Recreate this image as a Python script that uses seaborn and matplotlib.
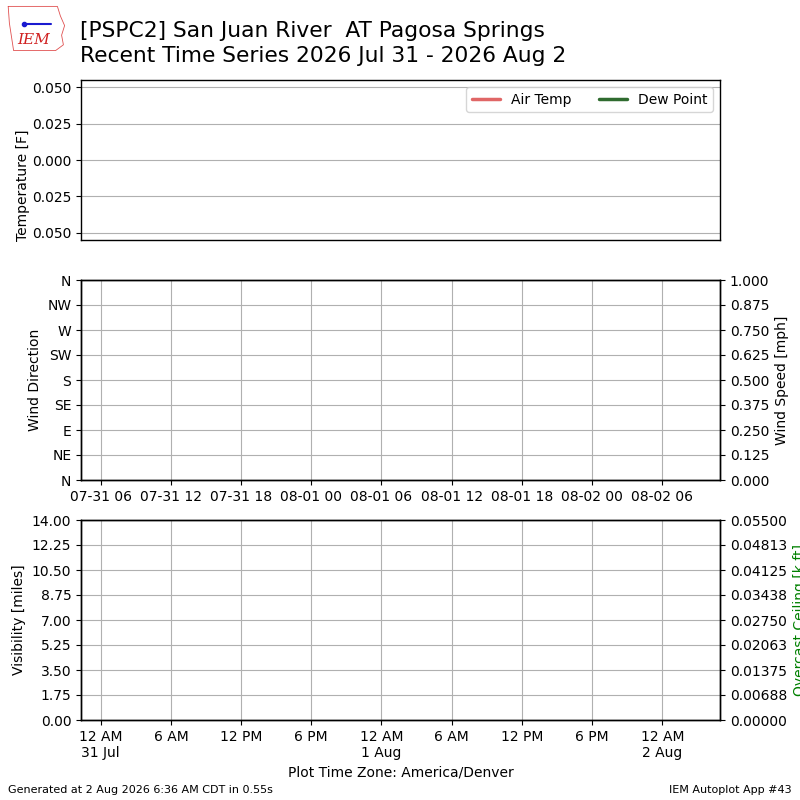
import datetime as dt
import numpy as np
import pandas as pd
import matplotlib
matplotlib.use("Agg")
import matplotlib.pyplot as plt
import matplotlib.dates as mdates
from matplotlib.ticker import FixedLocator, FuncFormatter
import seaborn as sns

# ---------------- data (the station reported nothing in this window) ----------------
times = []            # observation times (UTC)
air_temp = []         # F
dew_point = []        # F
wind_dir = []         # degrees
wind_speed = []       # mph
visibility = []       # miles
ceiling = []          # k ft

x_start = dt.datetime(2026, 7, 31, 4, 19)   # UTC
x_end = dt.datetime(2026, 8, 2, 10, 56)     # UTC
utc_offset_hours = -6                        # America/Denver (MDT)

temp_ticks = [-0.05, -0.025, 0.0, 0.025, 0.05]
dir_ticks = [0, 45, 90, 135, 180, 225, 270, 315, 360]
dir_labels = ["N", "NE", "E", "SE", "S", "SW", "W", "NW", "N"]
speed_ticks = [0.0, 0.125, 0.25, 0.375, 0.5, 0.625, 0.75, 0.875, 1.0]
vis_ticks = [0.0, 1.75, 3.5, 5.25, 7.0, 8.75, 10.5, 12.25, 14.0]
ceil_ticks = [0.0, 0.006875, 0.01375, 0.020625, 0.0275, 0.034375, 0.04125, 0.048125, 0.055]

title = "[PSPC2] San Juan River  AT Pagosa Springs\nRecent Time Series 2026 Jul 31 - 2026 Aug 2"
footer_left = "Generated at 2 Aug 2026 6:36 AM CDT in 0.55s"
footer_right = "IEM Autoplot App #43"

# ---------------- style ----------------
sns.set_style("ticks", {"axes.grid": True, "grid.color": "#b0b0b0",
                        "axes.edgecolor": "black", "xtick.color": "black",
                        "ytick.color": "black", "axes.labelcolor": "black",
                        "text.color": "black"})
plt.rcParams["font.family"] = ["DejaVu Sans"]
plt.rcParams["axes.unicode_minus"] = False
plt.rcParams["grid.linewidth"] = 0.8
plt.rcParams["axes.linewidth"] = 1.0

fig = plt.figure(figsize=(8, 8), dpi=100)

df_t = pd.DataFrame({"time": pd.to_datetime(times), "air": pd.Series(air_temp, dtype=float),
                     "dew": pd.Series(dew_point, dtype=float)})

# ---------------- top: temperature ----------------
ax1 = fig.add_axes([0.10125, 0.70, 0.79875, 0.20])
ax1.plot(df_t["time"], df_t["air"], color="#e06666", lw=2.5, label="Air Temp")
ax1.plot(df_t["time"], df_t["dew"], color="#2f6b2f", lw=2.5, label="Dew Point")
ax1.set_xlim(x_start, x_end)
ax1.set_ylim(-0.055, 0.055)
ax1.yaxis.set_major_locator(FixedLocator(temp_ticks))
ax1.yaxis.set_major_formatter(FuncFormatter(lambda v, p: f"{abs(v):.3f}"))
ax1.set_xticks([])
ax1.grid(True, axis="y")
ax1.grid(False, axis="x")
ax1.set_ylabel("Temperature [F]")
ax1.yaxis.set_label_coords(-0.08, 0.34)
ax1.legend(loc="upper right", ncol=2, fontsize=10)

# ---------------- middle: wind ----------------
ax2 = fig.add_axes([0.10125, 0.40, 0.79875, 0.25])
ax2.plot(pd.to_datetime(times), pd.Series(wind_dir, dtype=float), "o", color="b")
ax2.set_xlim(x_start, x_end)
ax2.set_ylim(0, 360)
ax2.set_yticks(dir_ticks)
ax2.set_yticklabels(dir_labels)
ax2.set_ylabel("Wind Direction")
ax2.xaxis.set_major_locator(mdates.HourLocator(byhour=[0, 6, 12, 18]))
ax2.xaxis.set_major_formatter(mdates.DateFormatter("%m-%d %H"))
ax2.grid(True)
ax2b = ax2.twinx()
ax2b.plot(pd.to_datetime(times), pd.Series(wind_speed, dtype=float), color="k")
ax2b.set_ylim(0, 1)
ax2b.set_yticks(speed_ticks)
ax2b.yaxis.set_major_formatter(FuncFormatter(lambda v, p: f"{v:.3f}"))
ax2b.set_ylabel("Wind Speed [mph]")
ax2b.grid(False)
ax2b.set_xlim(x_start, x_end)

# ---------------- bottom: visibility / ceiling ----------------
def local_fmt(v, pos):
    t = mdates.num2date(v).replace(tzinfo=None) + dt.timedelta(hours=utc_offset_hours)
    h = t.hour % 12
    h = 12 if h == 0 else h
    ampm = "AM" if t.hour < 12 else "PM"
    s = f"{h} {ampm}"
    if t.hour == 0:
        s += f"\n{t.day} {t.strftime('%b')}"
    return s

ax3 = fig.add_axes([0.10125, 0.10, 0.79875, 0.25])
ax3.plot(pd.to_datetime(times), pd.Series(visibility, dtype=float), color="k")
ax3.set_xlim(x_start, x_end)
ax3.set_ylim(0, 14)
ax3.set_yticks(vis_ticks)
ax3.yaxis.set_major_formatter(FuncFormatter(lambda v, p: f"{v:.2f}"))
ax3.set_ylabel("Visibility [miles]")
ax3.xaxis.set_major_locator(mdates.HourLocator(byhour=[0, 6, 12, 18]))
ax3.xaxis.set_major_formatter(FuncFormatter(local_fmt))
ax3.set_xlabel("Plot Time Zone: America/Denver")
ax3.grid(True)
ax3b = ax3.twinx()
ax3b.plot(pd.to_datetime(times), pd.Series(ceiling, dtype=float), color="g")
ax3b.set_ylim(0, 0.055)
ax3b.set_yticks(ceil_ticks)
ax3b.yaxis.set_major_formatter(FuncFormatter(lambda v, p: f"{v:.5f}"))
ax3b.set_ylabel("Overcast Ceiling [k ft]", color="green")
ax3b.grid(False)
ax3b.set_xlim(x_start, x_end)

# ---------------- titles / footer ----------------
fig.text(0.10, 0.946, title, fontsize=15.7, va="center", ha="left", linespacing=1.33)
fig.text(0.01, 0.006, footer_left, fontsize=8, ha="left", va="bottom")
fig.text(0.99, 0.006, footer_right, fontsize=8, ha="right", va="bottom")

# ---------------- logo ----------------
lax = fig.add_axes([0.008, 0.935, 0.075, 0.06])
lax.set_xlim(0, 1)
lax.set_ylim(0, 1)
lax.axis("off")
outline_x = [0.03, 0.85, 0.9, 0.97, 0.92, 0.95, 0.82, 0.12, 0.05, 0.03]
outline_y = [0.95, 0.95, 0.75, 0.55, 0.35, 0.15, 0.03, 0.03, 0.6, 0.95]
lax.plot(outline_x, outline_y, color="#e05050", lw=0.6)
lax.plot([0.3, 0.75], [0.58, 0.58], color="#1a1ad0", lw=1.5)
lax.plot([0.3], [0.58], "o", color="#1a1ad0", ms=3)
lax.text(0.45, 0.25, "IEM", color="#d02020", fontsize=11, style="italic",
         family="DejaVu Serif", ha="center", va="center")

fig.savefig("out.png", dpi=100)
